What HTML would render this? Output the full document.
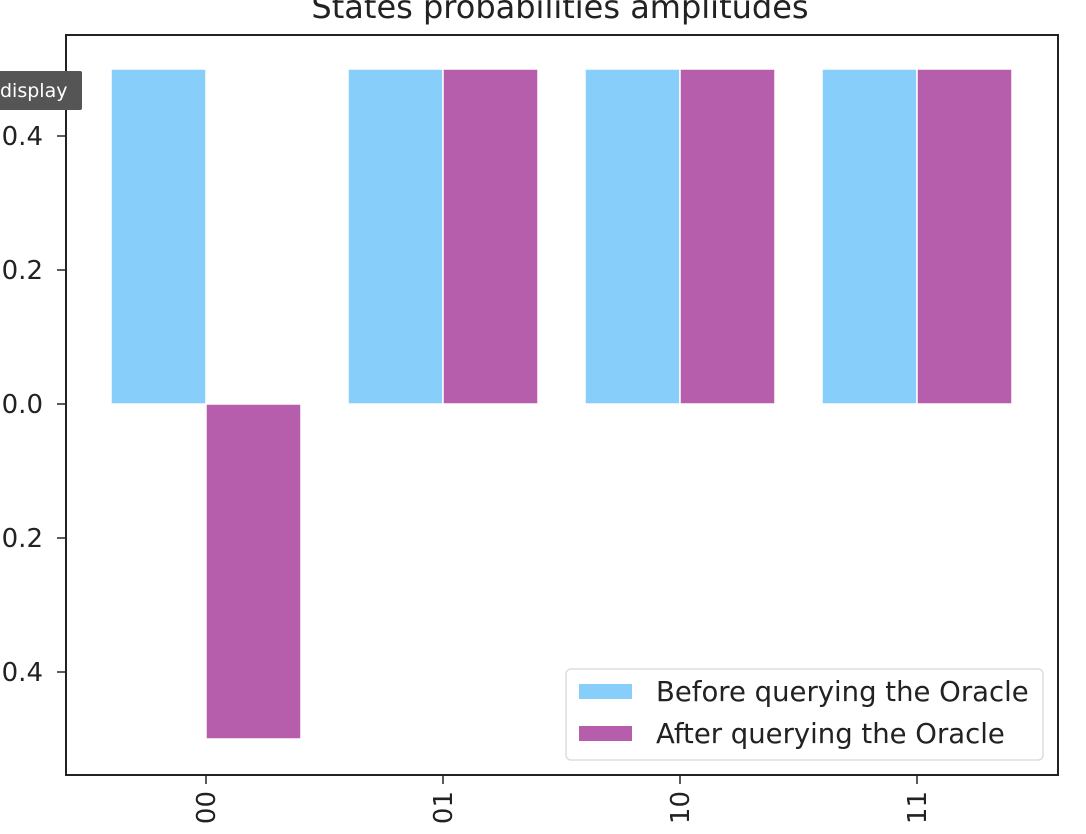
<!DOCTYPE html>
<html><head><meta charset="utf-8"><style>
body{margin:0;background:#fff;width:1086px;height:834px;overflow:hidden;font-family:"DejaVu Sans","Liberation Sans",sans-serif}
svg{display:block}
</style></head><body>
<svg id="chart" width="1086" height="834" font-family="DejaVu Sans, Liberation Sans, sans-serif">
<text x="560" y="18" font-size="32" text-anchor="middle" fill="#222">States probabilities amplitudes</text>
<g id="bars"></g>
<rect x="66" y="35" width="992" height="740" fill="none" stroke="#222" stroke-width="2"/>
<g id="yticks"></g>
<g id="xticks"></g>
<g>
<rect x="566" y="669" width="477" height="91" rx="5" fill="#fff" fill-opacity="0.85" stroke="#ddd" stroke-width="1.5"/>
<rect x="579" y="684" width="53" height="15" fill="#87CEFA"/>
<text x="656" y="701" font-size="27.5" fill="#222">Before querying the Oracle</text>
<rect x="579" y="726" width="53" height="15" fill="#B65DAB"/>
<text x="656" y="743" font-size="27.5" fill="#222">After querying the Oracle</text>
</g>
<g>
<rect x="-5" y="71" width="87" height="39" rx="2" fill="#555"/>
<text x="0" y="97" font-size="19" fill="#fff">display</text>
</g>
</svg>
<script>
const categories=["00","01","10","11"];
const beforeVals=[0.5,0.5,0.5,0.5];
const afterVals=[-0.5,0.5,0.5,0.5];
const yTicks=[-0.4,-0.2,0.0,0.2,0.4];
const NS="http://www.w3.org/2000/svg";
const y=v=>404-v*670;
const x=i=>206+i*237;
const bw=95;
function mk(tag,attrs,parent){const e=document.createElementNS(NS,tag);for(const k in attrs)e.setAttribute(k,attrs[k]);parent.appendChild(e);return e;}
const bars=document.getElementById('bars');
categories.forEach((c,i)=>{
  const b=beforeVals[i],a=afterVals[i];
  const r1=mk('rect',{x:x(i)-bw,y:Math.min(y(b),y(0)),width:bw,height:Math.abs(y(b)-y(0)),fill:'#87CEFA',stroke:'#fff','stroke-width':1.5},bars);
  
  
  const r2=mk('rect',{x:x(i),y:Math.min(y(a),y(0)),width:bw,height:Math.abs(y(a)-y(0)),fill:'#B65DAB',stroke:'#fff','stroke-width':1.5},bars);
  
  
});
const yt=document.getElementById('yticks');
yTicks.forEach(v=>{
  mk('line',{x1:57,x2:66,y1:y(v),y2:y(v),stroke:'#222','stroke-width':1.5},yt);
  const t=mk('text',{x:43,y:y(v)+9,'font-size':26,'text-anchor':'end',fill:'#222'},yt);
  t.textContent=(v<0?'\u2212':'')+Math.abs(v).toFixed(1);
  
  
});
const xt=document.getElementById('xticks');
categories.forEach((c,i)=>{
  mk('line',{x1:x(i),x2:x(i),y1:775,y2:784,stroke:'#222','stroke-width':1.5},xt);
  const t=mk('text',{x:0,y:0,'font-size':26,'text-anchor':'end',fill:'#222',transform:`translate(${x(i)+9},791) rotate(-90)`},xt);
  t.textContent=c;
  
  
});
</script>
</body></html>
